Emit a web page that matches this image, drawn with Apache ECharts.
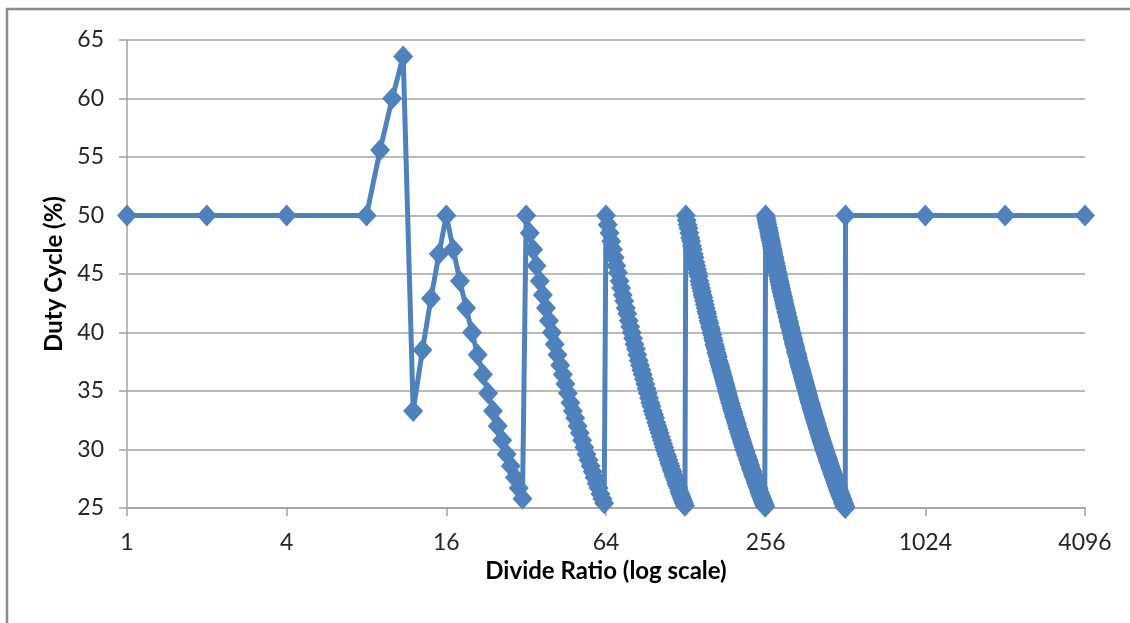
<!DOCTYPE html>
<html>
<head>
<meta charset="utf-8">
<script src="https://cdn.jsdelivr.net/npm/echarts@6/dist/echarts.min.js"></script>
<style>
  html, body { margin: 0; padding: 0; background: #ffffff; }
  #chart { width: 1130px; height: 623px; }
</style>
</head>
<body>
<div id="chart"></div>
<script>
// Divide ratio (x, log scale)
const divideRatios = [
  1, 2, 4, 8, 9, 10, 11, 12, 13, 14, 15, 16,
  17, 18, 19, 20, 21, 22, 23, 24, 25, 26, 27, 28, 29, 30, 31, 32,
  33, 34, 35, 36, 37, 38, 39, 40, 41, 42, 43, 44, 45, 46, 47, 48,
  49, 50, 51, 52, 53, 54, 55, 56, 57, 58, 59, 60, 61, 62, 63, 64,
  65, 66, 67, 68, 69, 70, 71, 72, 73, 74,
  75, 76, 77, 78, 79, 80, 81, 82, 83, 84,
  85, 86, 87, 88, 89, 90, 91, 92, 93, 94,
  95, 96, 97, 98, 99, 100, 101, 102, 103, 104,
  105, 106, 107, 108, 109, 110, 111, 112, 113, 114,
  115, 116, 117, 118, 119, 120, 121, 122, 123, 124,
  125, 126, 127, 128,
  129, 130, 131, 132, 133, 134, 135, 136, 137, 138,
  139, 140, 141, 142, 143, 144, 145, 146, 147, 148,
  149, 150, 151, 152, 153, 154, 155, 156, 157, 158,
  159, 160, 161, 162, 163, 164, 165, 166, 167, 168,
  169, 170, 171, 172, 173, 174, 175, 176, 177, 178,
  179, 180, 181, 182, 183, 184, 185, 186, 187, 188,
  189, 190, 191, 192, 193, 194, 195, 196, 197, 198,
  199, 200, 201, 202, 203, 204, 205, 206, 207, 208,
  209, 210, 211, 212, 213, 214, 215, 216, 217, 218,
  219, 220, 221, 222, 223, 224, 225, 226, 227, 228,
  229, 230, 231, 232, 233, 234, 235, 236, 237, 238,
  239, 240, 241, 242, 243, 244, 245, 246, 247, 248,
  249, 250, 251, 252, 253, 254, 255, 256,
  257, 258, 259, 260, 261, 262, 263, 264, 265, 266,
  267, 268, 269, 270, 271, 272, 273, 274, 275, 276,
  277, 278, 279, 280, 281, 282, 283, 284, 285, 286,
  287, 288, 289, 290, 291, 292, 293, 294, 295, 296,
  297, 298, 299, 300, 301, 302, 303, 304, 305, 306,
  307, 308, 309, 310, 311, 312, 313, 314, 315, 316,
  317, 318, 319, 320, 321, 322, 323, 324, 325, 326,
  327, 328, 329, 330, 331, 332, 333, 334, 335, 336,
  337, 338, 339, 340, 341, 342, 343, 344, 345, 346,
  347, 348, 349, 350, 351, 352, 353, 354, 355, 356,
  357, 358, 359, 360, 361, 362, 363, 364, 365, 366,
  367, 368, 369, 370, 371, 372, 373, 374, 375, 376,
  377, 378, 379, 380, 381, 382, 383, 384, 385, 386,
  387, 388, 389, 390, 391, 392, 393, 394, 395, 396,
  397, 398, 399, 400, 401, 402, 403, 404, 405, 406,
  407, 408, 409, 410, 411, 412, 413, 414, 415, 416,
  417, 418, 419, 420, 421, 422, 423, 424, 425, 426,
  427, 428, 429, 430, 431, 432, 433, 434, 435, 436,
  437, 438, 439, 440, 441, 442, 443, 444, 445, 446,
  447, 448, 449, 450, 451, 452, 453, 454, 455, 456,
  457, 458, 459, 460, 461, 462, 463, 464, 465, 466,
  467, 468, 469, 470, 471, 472, 473, 474, 475, 476,
  477, 478, 479, 480, 481, 482, 483, 484, 485, 486,
  487, 488, 489, 490, 491, 492, 493, 494, 495, 496,
  497, 498, 499, 500, 501, 502, 503, 504, 505, 506,
  507, 508, 509, 510, 511, 512,
  1024, 2048, 4096
];

// Duty cycle (%) for each divide ratio
const dutyCycle = [
  50.0, 50.0, 50.0, 50.0, 55.6, 60.0, 63.6, 33.3, 38.5, 42.9, 46.7, 50.0,
  47.1, 44.4, 42.1, 40.0, 38.1, 36.4, 34.8, 33.3, 32.0, 30.8, 29.6, 28.6, 27.6, 26.7, 25.8, 50.0,
  48.5, 47.1, 45.7, 44.4, 43.2, 42.1, 41.0, 40.0, 39.0, 38.1, 37.2, 36.4, 35.6, 34.8, 34.0, 33.3,
  32.7, 32.0, 31.4, 30.8, 30.2, 29.6, 29.1, 28.6, 28.1, 27.6, 27.1, 26.7, 26.2, 25.8, 25.4, 50.0,
  49.2, 48.5, 47.8, 47.1, 46.4, 45.7, 45.1, 44.4, 43.8, 43.2,
  42.7, 42.1, 41.6, 41.0, 40.5, 40.0, 39.5, 39.0, 38.6, 38.1,
  37.6, 37.2, 36.8, 36.4, 36.0, 35.6, 35.2, 34.8, 34.4, 34.0,
  33.7, 33.3, 33.0, 32.7, 32.3, 32.0, 31.7, 31.4, 31.1, 30.8,
  30.5, 30.2, 29.9, 29.6, 29.4, 29.1, 28.8, 28.6, 28.3, 28.1,
  27.8, 27.6, 27.4, 27.1, 26.9, 26.7, 26.4, 26.2, 26.0, 25.8,
  25.6, 25.4, 25.2, 50.0,
  49.6, 49.2, 48.9, 48.5, 48.1, 47.8, 47.4, 47.1, 46.7, 46.4,
  46.0, 45.7, 45.4, 45.1, 44.8, 44.4, 44.1, 43.8, 43.5, 43.2,
  43.0, 42.7, 42.4, 42.1, 41.8, 41.6, 41.3, 41.0, 40.8, 40.5,
  40.3, 40.0, 39.8, 39.5, 39.3, 39.0, 38.8, 38.6, 38.3, 38.1,
  37.9, 37.6, 37.4, 37.2, 37.0, 36.8, 36.6, 36.4, 36.2, 36.0,
  35.8, 35.6, 35.4, 35.2, 35.0, 34.8, 34.6, 34.4, 34.2, 34.0,
  33.9, 33.7, 33.5, 33.3, 33.2, 33.0, 32.8, 32.7, 32.5, 32.3,
  32.2, 32.0, 31.8, 31.7, 31.5, 31.4, 31.2, 31.1, 30.9, 30.8,
  30.6, 30.5, 30.3, 30.2, 30.0, 29.9, 29.8, 29.6, 29.5, 29.4,
  29.2, 29.1, 29.0, 28.8, 28.7, 28.6, 28.4, 28.3, 28.2, 28.1,
  27.9, 27.8, 27.7, 27.6, 27.5, 27.4, 27.2, 27.1, 27.0, 26.9,
  26.8, 26.7, 26.6, 26.4, 26.3, 26.2, 26.1, 26.0, 25.9, 25.8,
  25.7, 25.6, 25.5, 25.4, 25.3, 25.2, 25.1, 50.0,
  49.8, 49.6, 49.4, 49.2, 49.0, 48.9, 48.7, 48.5, 48.3, 48.1,
  47.9, 47.8, 47.6, 47.4, 47.2, 47.1, 46.9, 46.7, 46.5, 46.4,
  46.2, 46.0, 45.9, 45.7, 45.6, 45.4, 45.2, 45.1, 44.9, 44.8,
  44.6, 44.4, 44.3, 44.1, 44.0, 43.8, 43.7, 43.5, 43.4, 43.2,
  43.1, 43.0, 42.8, 42.7, 42.5, 42.4, 42.2, 42.1, 42.0, 41.8,
  41.7, 41.6, 41.4, 41.3, 41.2, 41.0, 40.9, 40.8, 40.6, 40.5,
  40.4, 40.3, 40.1, 40.0, 39.9, 39.8, 39.6, 39.5, 39.4, 39.3,
  39.1, 39.0, 38.9, 38.8, 38.7, 38.6, 38.4, 38.3, 38.2, 38.1,
  38.0, 37.9, 37.8, 37.6, 37.5, 37.4, 37.3, 37.2, 37.1, 37.0,
  36.9, 36.8, 36.7, 36.6, 36.5, 36.4, 36.3, 36.2, 36.1, 36.0,
  35.9, 35.8, 35.7, 35.6, 35.5, 35.4, 35.3, 35.2, 35.1, 35.0,
  34.9, 34.8, 34.7, 34.6, 34.5, 34.4, 34.3, 34.2, 34.1, 34.0,
  34.0, 33.9, 33.8, 33.7, 33.6, 33.5, 33.4, 33.3, 33.2, 33.2,
  33.1, 33.0, 32.9, 32.8, 32.7, 32.7, 32.6, 32.5, 32.4, 32.3,
  32.2, 32.2, 32.1, 32.0, 31.9, 31.8, 31.8, 31.7, 31.6, 31.5,
  31.4, 31.4, 31.3, 31.2, 31.1, 31.1, 31.0, 30.9, 30.8, 30.8,
  30.7, 30.6, 30.5, 30.5, 30.4, 30.3, 30.3, 30.2, 30.1, 30.0,
  30.0, 29.9, 29.8, 29.8, 29.7, 29.6, 29.6, 29.5, 29.4, 29.4,
  29.3, 29.2, 29.2, 29.1, 29.0, 29.0, 28.9, 28.8, 28.8, 28.7,
  28.6, 28.6, 28.5, 28.4, 28.4, 28.3, 28.3, 28.2, 28.1, 28.1,
  28.0, 27.9, 27.9, 27.8, 27.8, 27.7, 27.6, 27.6, 27.5, 27.5,
  27.4, 27.4, 27.3, 27.2, 27.2, 27.1, 27.1, 27.0, 26.9, 26.9,
  26.8, 26.8, 26.7, 26.7, 26.6, 26.6, 26.5, 26.4, 26.4, 26.3,
  26.3, 26.2, 26.2, 26.1, 26.1, 26.0, 26.0, 25.9, 25.9, 25.8,
  25.8, 25.7, 25.7, 25.6, 25.5, 25.5, 25.4, 25.4, 25.3, 25.3,
  25.2, 25.2, 25.1, 25.1, 25.0, 50.0,
  50.0, 50.0, 50.0
];

// Axis tick labels
const xTickValues = [1, 4, 16, 64, 256, 1024, 4096];
const yTickValues = [25, 30, 35, 40, 45, 50, 55, 60, 65];

const xAxisTitle = 'Divide Ratio (log scale)';
const yAxisTitle = 'Duty Cycle (%)';

const seriesData = divideRatios.map((r, i) => [r, dutyCycle[i]]);

const FONT = 'Lato';
const GRID_COLOR = '#a3a3a3';
const SERIES_COLOR = '#4F81BD';

const chart = echarts.init(document.getElementById('chart'), null, { renderer: 'canvas' });
chart.setOption({
  animation: false,
  backgroundColor: '#ffffff',
  textStyle: { fontFamily: FONT },
  graphic: [{
    type: 'rect',
    silent: true,
    shape: { x: 7, y: 9, width: 1300, height: 800 },
    style: { fill: 'none', stroke: '#8a8a8a', lineWidth: 2.5 }
  }],
  grid: { left: 127, right: 45, top: 40, bottom: 115, containLabel: false, outerBoundsMode: 'none' },
  xAxis: {
    type: 'log',
    logBase: 2,
    min: 1,
    max: 4096,
    name: xAxisTitle,
    nameLocation: 'middle',
    nameGap: 48,
    nameTextStyle: { fontFamily: FONT, fontSize: 24, fontWeight: 'bold', color: '#000000' },
    axisLine: { show: true, lineStyle: { color: GRID_COLOR, width: 1.5 } },
    axisTick: { show: true, inside: false, length: 8, customValues: xTickValues, lineStyle: { color: GRID_COLOR, width: 1.5 } },
    axisLabel: { show: true, customValues: xTickValues, margin: 23, fontFamily: FONT, fontSize: 23, color: '#262626',
      formatter: (v) => String(Math.round(v)) },
    splitLine: { show: false },
    minorTick: { show: false },
    minorSplitLine: { show: false }
  },
  yAxis: {
    type: 'value',
    min: 25,
    max: 65,
    interval: 5,
    name: yAxisTitle,
    nameLocation: 'middle',
    nameGap: 58,
    nameTextStyle: { fontFamily: FONT, fontSize: 24, fontWeight: 'bold', color: '#000000' },
    axisLine: { show: true, lineStyle: { color: GRID_COLOR, width: 1.5 } },
    axisTick: { show: true, inside: false, length: 8, lineStyle: { color: GRID_COLOR, width: 1.5 } },
    axisLabel: { show: true, margin: 23, fontFamily: FONT, fontSize: 23, color: '#262626',
      customValues: yTickValues, formatter: (v) => String(v) },
    splitLine: { show: true, lineStyle: { color: GRID_COLOR, width: 1.5 } }
  },
  series: [{
    name: 'Duty Cycle',
    type: 'line',
    data: seriesData,
    symbol: 'diamond',
    symbolSize: [20, 22],
    showAllSymbol: true,
    clip: false,
    color: SERIES_COLOR,
    itemStyle: { color: SERIES_COLOR },
    lineStyle: { color: SERIES_COLOR, width: 5 },
    emphasis: { disabled: true }
  }]
});
</script>
</body>
</html>
